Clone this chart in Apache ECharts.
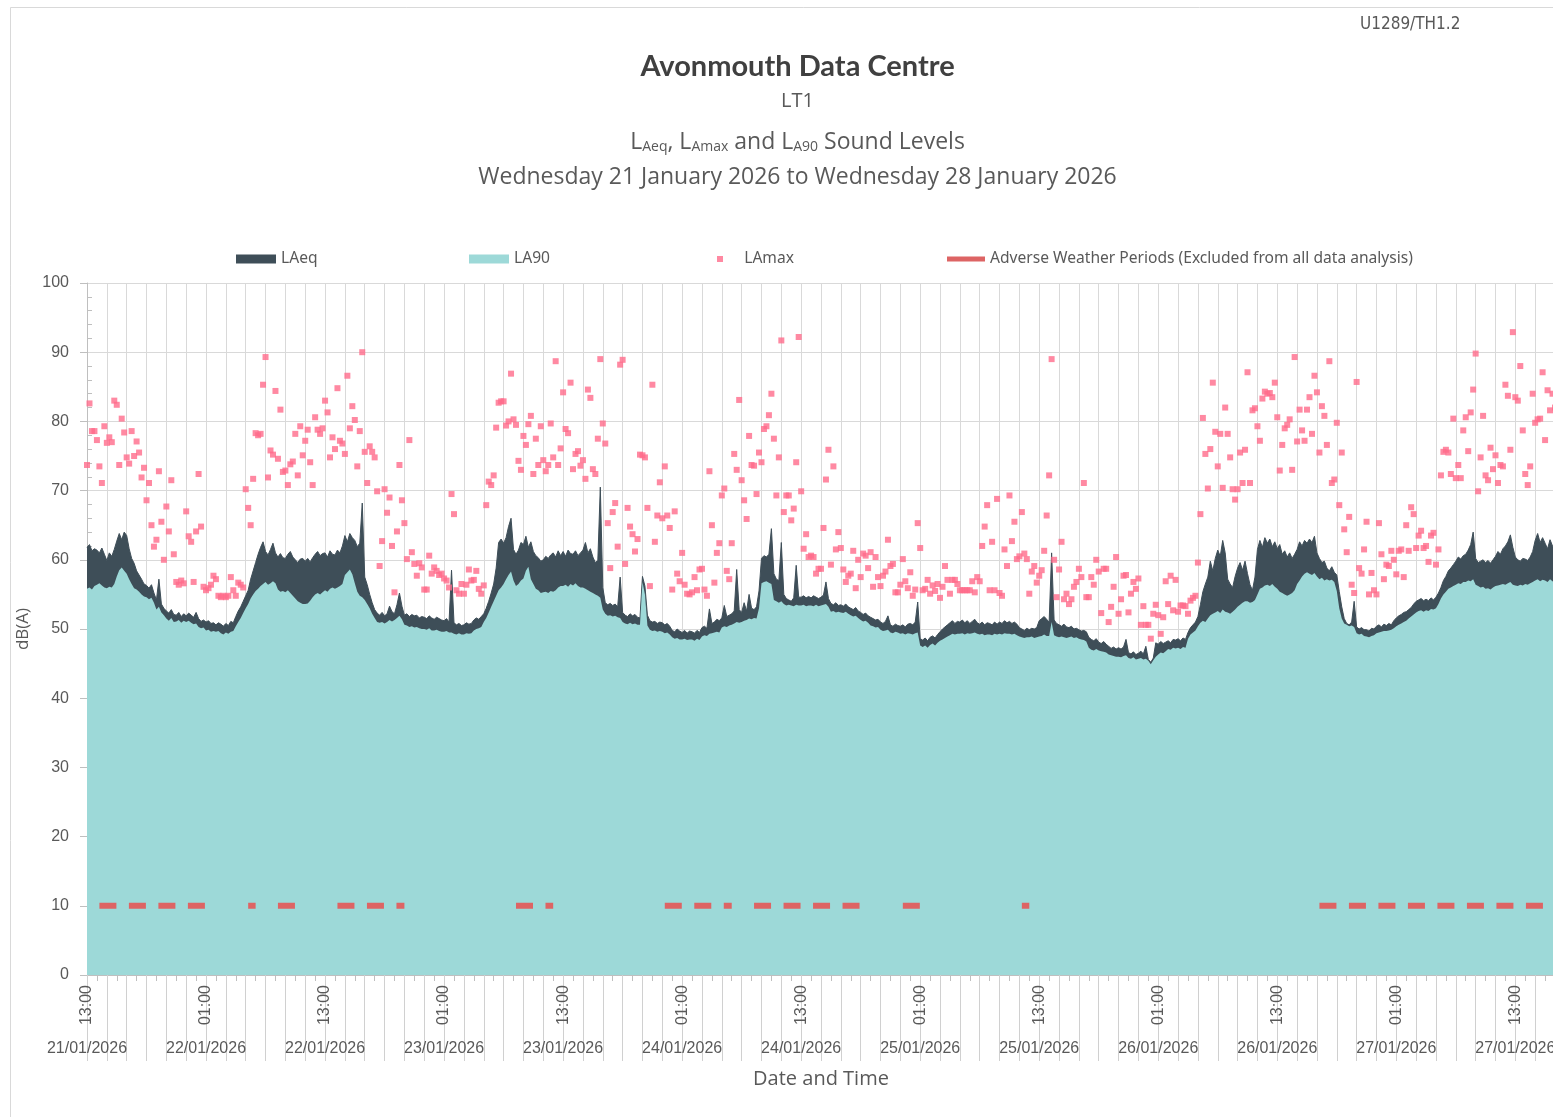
<!DOCTYPE html>
<html>
<head>
<meta charset="utf-8">
<title>Avonmouth Data Centre - LT1</title>
<script src="https://cdn.jsdelivr.net/npm/echarts@6/dist/echarts.min.js"></script>
<style>
  html, body { margin: 0; padding: 0; overflow: hidden; background: #fff; }
  #chart { width: 1595px; height: 1117px; }
</style>
</head>
<body>
<div id="chart"></div>
<script>
// samples every 15 minutes, first one at 21/01/2026 13:00
const firstHour = 13;
const firstDay = 21;
const sampleHours = 0.25;
const lastHour = 148;

const laeq = [
  61.8, 62.2, 61.3, 61.6, 61.4, 61.0, 61.7, 60.8, 59.9, 61.0, 60.5, 61.5, 62.7, 63.8, 62.9, 64.0, 63.5, 61.6, 60.2, 59.5, 58.4, 57.8, 57.2, 56.5,
  56.3, 55.9, 56.4, 55.2, 54.2, 57.2, 53.6, 53.0, 52.6, 52.3, 52.8, 52.1, 52.0, 52.4, 51.8, 52.2, 51.9, 52.3, 52.0, 51.7, 52.4, 51.5, 51.1, 51.3,
  51.0, 51.2, 50.8, 50.9, 50.6, 50.9, 50.7, 50.4, 50.8, 50.5, 51.1, 50.9, 51.8, 52.6, 53.2, 54.0, 54.8, 55.6, 57.2, 58.4, 59.6, 60.8, 61.8, 62.6,
  61.2, 60.7, 61.5, 62.4, 61.0, 60.4, 60.9, 60.3, 60.2, 60.8, 61.2, 60.4, 60.0, 59.6, 60.1, 60.2, 59.8, 60.2, 59.7, 60.3, 60.8, 61.2, 60.6, 60.9,
  61.0, 60.4, 61.3, 60.8, 60.7, 61.4, 61.0, 62.0, 63.5, 62.6, 63.8, 63.2, 62.8, 61.9, 62.4, 68.2, 57.5, 56.4, 55.0, 53.8, 52.8, 52.3, 52.0, 52.4,
  51.9, 52.2, 53.3, 52.5, 52.2, 53.5, 55.2, 53.3, 52.0, 52.2, 51.8, 52.1, 51.9, 52.0, 51.6, 51.8, 51.7, 51.5, 51.9, 51.6, 51.4, 51.7, 51.5, 51.3,
  51.2, 51.5, 51.0, 58.5, 50.9, 50.6, 50.8, 50.5, 50.6, 50.9, 50.7, 50.8, 51.3, 51.6, 51.4, 51.8, 52.2, 53.0, 54.0, 55.2, 56.5, 58.8, 62.5, 63.0,
  62.4, 63.2, 64.8, 66.0, 61.5, 60.8, 61.4, 62.5, 62.2, 63.4, 61.8, 62.6, 61.2, 60.6, 60.3, 59.8, 60.0, 60.5, 60.2, 60.7, 61.0, 60.4, 61.3, 60.6,
  61.2, 60.5, 61.4, 60.9, 60.8, 61.3, 60.6, 61.0, 61.4, 62.5, 61.0, 61.6, 60.4, 59.6, 59.9, 70.5, 56.0, 53.8, 53.5, 53.7, 53.4, 53.6, 53.2, 57.5,
  52.4, 52.0, 51.8, 52.2, 51.9, 52.1, 51.7, 51.6, 57.6, 56.2, 52.0, 51.2, 51.0, 51.1, 50.8, 51.0, 50.9, 50.6, 50.8, 50.4, 49.8, 49.6, 50.0, 49.7,
  49.5, 49.8, 49.4, 49.7, 49.6, 49.4, 49.8, 49.5, 50.2, 50.4, 50.1, 52.9, 50.8, 51.0, 51.4, 51.2, 51.6, 53.4, 51.8, 52.0, 52.2, 52.6, 58.6, 52.8,
  52.4, 53.8, 52.6, 55.0, 53.0, 52.8, 53.2, 55.5, 60.2, 60.6, 60.4, 60.8, 64.5, 58.0, 57.2, 57.0, 62.5, 55.0, 54.4, 54.2, 54.0, 54.5, 59.2, 54.6,
  54.6, 54.8, 54.5, 54.7, 54.5, 54.8, 54.6, 54.4, 54.6, 54.9, 56.8, 54.4, 53.7, 53.5, 53.8, 53.4, 53.5, 53.3, 53.6, 53.2, 53.0, 52.8, 53.1, 52.6,
  52.4, 52.1, 52.3, 51.9, 51.7, 51.5, 51.3, 51.4, 51.0, 50.8, 51.1, 51.9, 50.6, 50.4, 50.7, 50.5, 50.4, 50.6, 50.3, 50.7, 50.8, 50.6, 51.0, 53.9,
  48.6, 48.4, 48.7, 48.3, 48.8, 49.0, 48.7, 49.2, 49.6, 50.0, 50.3, 50.6, 50.9, 51.2, 50.8, 51.1, 51.0, 51.3, 50.9, 51.2, 50.8, 51.1, 51.4, 50.9,
  50.7, 51.0, 50.6, 50.9, 50.8, 50.6, 51.0, 50.7, 51.0, 50.8, 51.2, 50.9, 51.1, 50.8, 51.0, 50.7, 50.2, 50.0, 49.8, 50.1, 49.9, 50.1, 50.0, 50.2,
  51.2, 51.5, 51.8, 51.4, 51.0, 61.0, 51.3, 50.8, 50.6, 50.4, 50.7, 50.3, 50.2, 50.4, 50.0, 50.1, 49.9, 49.7, 49.8, 49.6, 48.8, 48.5, 48.3, 48.6,
  48.1, 47.9, 48.2, 47.8, 47.5, 47.2, 47.4, 47.1, 47.3, 47.1, 47.4, 48.5, 46.6, 46.4, 46.7, 46.3, 46.5, 46.8, 46.4, 47.5, 45.6, 45.2, 45.8, 48.0,
  47.8, 48.2, 47.9, 48.1, 48.3, 48.0, 48.5, 48.4, 48.6, 48.3, 48.7, 48.5, 49.5, 50.2, 50.6, 51.0, 51.8, 53.5, 55.4, 56.5, 57.5, 59.8, 58.4, 60.2,
  61.4, 60.5, 62.8, 61.0, 57.2, 56.5, 56.0, 57.6, 58.8, 59.6, 58.5, 59.8, 58.0, 56.4, 55.6, 57.5, 61.5, 62.8, 61.8, 63.2, 62.4, 63.0, 61.9, 62.6,
  61.6, 62.2, 60.8, 61.3, 60.4, 61.0, 60.2, 60.8, 61.5, 62.6, 62.0, 62.8, 62.4, 63.0, 62.5, 63.4, 61.0, 60.2, 59.6, 59.8, 58.8, 58.4, 59.0, 58.2,
  57.8, 55.4, 53.2, 51.5, 50.8, 50.6, 51.0, 54.0, 50.3, 50.0, 50.2, 49.9, 49.9, 49.7, 50.1, 50.0, 50.4, 50.6, 50.3, 50.7, 50.5, 50.8, 50.6, 51.2,
  51.6, 51.9, 52.1, 52.4, 52.5, 52.8, 53.1, 53.6, 54.0, 54.2, 54.4, 54.1, 54.3, 54.1, 54.5, 54.2, 54.6, 55.2, 56.0, 57.0, 57.6, 58.4, 58.8, 59.3,
  59.8, 60.4, 60.1, 60.6, 60.8, 61.4, 62.2, 64.0, 60.2, 59.6, 59.8, 60.0, 59.6, 59.9, 59.5, 60.0, 60.5, 61.2, 60.8, 61.6, 62.0, 62.6, 63.6, 61.8,
  60.4, 60.0, 59.8, 60.2, 60.1, 59.9, 60.4, 61.2, 62.8, 63.8, 62.5, 63.2, 62.4, 61.6, 62.9, 62.0, 61.5
];

const la90 = [
  55.8, 56.0, 55.7, 56.2, 56.4, 56.6, 56.3, 56.0, 55.9, 56.1, 56.0, 56.5, 57.6, 58.5, 58.9, 58.4, 58.0, 57.2, 56.5, 55.9, 55.7, 55.4, 55.0, 54.7,
  54.6, 54.3, 54.5, 53.8, 52.8, 53.2, 52.4, 52.0, 51.5, 51.2, 51.6, 51.0, 51.1, 51.3, 50.9, 51.2, 51.0, 51.2, 50.9, 50.7, 50.8, 50.3, 50.1, 50.2,
  49.8, 49.9, 49.6, 49.7, 49.6, 49.7, 49.4, 49.2, 49.5, 49.3, 49.6, 49.7, 50.4, 51.0, 51.6, 52.3, 53.0, 53.6, 54.4, 55.0, 55.5, 55.8, 56.2, 56.5,
  56.8, 56.4, 56.6, 56.9, 56.6, 55.7, 55.4, 55.5, 55.3, 55.6, 55.2, 54.8, 54.4, 54.0, 53.8, 53.6, 53.6, 53.7, 54.1, 54.6, 55.0, 55.2, 55.0, 55.3,
  55.6, 55.4, 55.8, 56.0, 55.8, 56.0, 56.2, 56.5, 57.8, 58.2, 58.6, 57.9, 56.6, 55.4, 54.8, 54.6, 54.2, 53.6, 53.0, 52.2, 51.6, 51.0, 50.9, 51.0,
  50.8, 51.0, 51.3, 51.1, 51.3, 51.6, 51.9, 51.4, 50.6, 50.5, 50.3, 50.4, 50.2, 50.3, 50.1, 50.0, 50.0, 49.9, 50.1, 49.8, 49.8, 49.9, 49.7, 49.6,
  49.6, 49.7, 49.5, 49.5, 49.3, 49.2, 49.4, 49.2, 49.2, 49.4, 49.3, 49.4, 49.8, 50.0, 50.1, 50.3, 51.0, 51.6, 52.4, 53.2, 54.0, 54.8, 55.6, 56.0,
  56.5, 57.2, 57.8, 58.3, 57.0, 56.2, 56.5, 57.0, 57.3, 58.4, 59.0, 57.2, 56.5, 55.8, 55.6, 55.2, 55.3, 55.4, 55.2, 55.5, 55.4, 55.6, 56.0, 56.2,
  56.2, 56.4, 56.1, 56.5, 56.3, 56.6, 56.2, 56.0, 56.0, 55.8, 55.6, 55.4, 55.2, 55.0, 54.8, 54.5, 52.8, 52.2, 51.9, 52.0, 51.8, 51.9, 51.7, 51.6,
  51.0, 50.8, 50.7, 50.9, 50.7, 50.8, 50.6, 50.6, 56.8, 55.0, 50.5, 49.9, 49.7, 49.8, 49.6, 49.7, 49.6, 49.4, 49.5, 49.2, 48.8, 48.6, 48.7, 48.5,
  48.5, 48.6, 48.4, 48.5, 48.5, 48.3, 48.6, 48.4, 48.9, 49.1, 49.0, 49.3, 49.4, 49.5, 49.6, 49.5, 50.2, 50.4, 50.3, 50.5, 50.6, 50.8, 51.0, 50.9,
  51.0, 51.2, 51.3, 51.5, 51.4, 51.6, 51.5, 53.0, 56.6, 56.8, 56.9, 56.7, 56.5, 54.2, 54.0, 53.8, 54.0, 53.6, 53.4, 53.5, 53.4, 53.3, 53.5, 53.4,
  53.4, 53.5, 53.3, 53.4, 53.4, 53.3, 53.5, 53.3, 53.4, 53.5, 53.6, 53.2, 52.5, 52.6, 52.4, 52.5, 52.4, 52.3, 52.5, 52.2, 52.0, 51.8, 51.9, 51.6,
  51.3, 51.1, 51.2, 50.9, 50.5, 50.4, 50.2, 50.3, 49.9, 49.7, 49.8, 49.9, 49.5, 49.4, 49.6, 49.5, 49.3, 49.4, 49.2, 49.4, 49.3, 49.2, 49.4, 49.5,
  47.6, 47.4, 47.6, 47.3, 47.7, 47.9, 47.6, 48.0, 48.3, 48.5, 48.7, 48.9, 49.1, 49.3, 49.2, 49.3, 49.3, 49.4, 49.2, 49.4, 49.3, 49.4, 49.5, 49.3,
  49.2, 49.3, 49.1, 49.2, 49.2, 49.1, 49.3, 49.2, 49.3, 49.2, 49.4, 49.3, 49.3, 49.2, 49.3, 49.1, 48.9, 48.8, 48.7, 48.8, 48.8, 48.9, 48.7, 48.8,
  48.9, 49.0, 49.2, 49.0, 49.0, 51.0, 49.1, 48.9, 48.8, 48.9, 48.8, 48.7, 48.8, 48.9, 48.7, 48.8, 48.6, 48.5, 48.4, 48.2, 47.3, 47.0, 46.9, 47.1,
  46.9, 46.8, 46.7, 46.6, 46.3, 46.2, 46.1, 46.0, 46.0, 45.9, 46.1, 46.2, 45.8, 45.7, 45.9, 45.6, 45.7, 45.8, 45.6, 45.7, 45.4, 44.9, 45.5, 46.0,
  46.3, 46.6, 46.5, 46.8, 47.1, 47.0, 47.3, 47.2, 47.3, 47.1, 47.4, 47.3, 48.6, 49.2, 49.5, 49.8, 50.4, 50.9, 51.2, 51.0, 51.5, 52.0, 52.2, 52.4,
  52.6, 52.3, 52.8, 52.5, 52.4, 52.2, 52.5, 52.8, 53.2, 53.5, 53.8, 54.0, 54.0, 53.8, 53.9, 54.2, 55.0, 55.8, 56.0, 56.3, 56.4, 56.2, 56.5, 56.1,
  55.8, 55.4, 55.2, 55.0, 54.8, 55.0, 55.2, 55.6, 56.5, 57.0, 57.6, 58.0, 58.2, 58.0, 57.8, 58.1, 57.6, 57.2, 57.4, 57.0, 57.2, 57.0, 57.1, 56.8,
  55.5, 53.0, 51.5, 50.8, 50.6, 50.4, 50.5, 50.3, 49.4, 49.2, 49.3, 49.0, 48.9, 48.8, 49.0, 49.1, 49.4, 49.5, 49.6, 49.7, 49.7, 49.8, 49.9, 50.1,
  50.4, 50.6, 50.8, 51.0, 51.2, 51.5, 51.8, 52.1, 52.4, 52.6, 52.7, 52.5, 52.7, 52.6, 52.9, 52.8, 53.0, 53.6, 54.4, 55.0, 55.4, 55.8, 56.0, 56.2,
  56.4, 56.6, 56.5, 56.8, 56.8, 57.0, 56.9, 57.2, 56.4, 56.2, 56.0, 56.1, 55.8, 55.9, 55.7, 56.0, 56.2, 56.3, 56.4, 56.5, 56.4, 56.6, 56.8, 56.4,
  56.3, 56.2, 56.4, 56.3, 56.5, 56.4, 56.6, 56.8, 57.0, 57.2, 56.9, 57.1, 57.0, 56.8, 57.2, 56.9, 56.6
];

const lamax = [
  73.7, 82.6, 78.6, 78.6, 77.3, 73.5, 71.1, 79.3, 76.9, 77.7, 77.0, 83.0, 82.4, 73.7, 80.4, 78.4, 74.8, 73.9, 78.6, 75.0, 77.1, 75.5, 71.9, 73.3,
  68.6, 71.1, 65.0, 61.9, 62.9, 72.8, 65.5, 60.0, 67.7, 64.1, 71.5, 60.8, 56.8, 56.4, 57.0, 56.6, 67.0, 63.4, 62.6, 56.8, 64.1, 72.4, 64.8, 56.1,
  55.6, 55.9, 56.4, 57.7, 57.2, 54.8, 54.6, 54.8, 54.6, 54.8, 57.5, 55.6, 54.8, 56.7, 56.4, 56.0, 70.2, 67.5, 65.0, 71.7, 78.3, 78.0, 78.2, 85.3,
  89.3, 71.9, 75.8, 75.2, 84.4, 74.6, 81.7, 72.7, 72.9, 70.8, 73.8, 74.2, 78.2, 72.2, 79.3, 75.1, 77.2, 78.8, 74.1, 70.8, 80.6, 78.8, 78.2, 79.0,
  83.0, 81.3, 74.8, 77.7, 76.0, 84.8, 77.2, 76.8, 75.3, 86.6, 79.0, 82.2, 80.2, 73.5, 78.6, 90.0, 75.6, 71.1, 76.4, 75.6, 74.8, 69.9, 59.1, 62.7,
  70.2, 66.8, 69.0, 62.0, 55.3, 64.1, 73.7, 68.6, 65.3, 60.1, 77.3, 61.1, 59.4, 57.7, 59.5, 58.9, 55.7, 55.7, 60.6, 58.0, 58.9, 58.4, 57.8, 58.0,
  57.3, 57.0, 56.0, 69.5, 66.6, 55.6, 55.1, 56.5, 55.1, 56.4, 58.6, 57.0, 57.1, 58.4, 55.8, 55.1, 56.3, 67.9, 71.3, 70.8, 72.2, 79.1, 82.7, 82.9,
  82.9, 79.4, 80.0, 86.9, 80.3, 79.5, 74.3, 73.0, 77.9, 76.6, 79.6, 80.8, 72.4, 77.5, 73.7, 79.3, 74.4, 72.8, 73.7, 79.7, 74.8, 88.7, 73.7, 76.1,
  84.2, 78.9, 78.3, 85.6, 73.1, 75.3, 75.7, 73.6, 74.4, 71.7, 84.6, 83.4, 73.1, 72.4, 77.5, 89.0, 79.7, 76.8, 65.3, 58.8, 66.9, 68.2, 61.9, 88.2,
  88.9, 59.4, 67.5, 64.8, 63.7, 61.2, 63.0, 75.2, 75.1, 74.8, 67.5, 56.2, 85.3, 62.6, 66.4, 71.2, 66.0, 73.5, 66.4, 64.6, 55.7, 67.0, 58.0, 56.9,
  61.0, 56.4, 55.1, 55.0, 55.3, 57.5, 55.6, 58.6, 58.7, 55.7, 54.8, 72.8, 65.0, 56.7, 61.0, 62.4, 69.3, 70.3, 58.4, 57.2, 62.4, 75.3, 73.0, 83.1,
  71.5, 68.6, 65.9, 77.9, 73.7, 73.6, 69.5, 75.5, 74.1, 78.9, 79.3, 80.9, 84.0, 77.5, 69.3, 74.8, 91.7, 66.9, 69.3, 69.3, 65.7, 67.4, 74.1, 92.2,
  69.9, 61.6, 63.7, 60.4, 60.6, 60.4, 58.0, 58.7, 58.7, 64.6, 71.6, 75.9, 59.3, 73.5, 61.5, 64.0, 61.7, 58.6, 56.8, 57.7, 58.0, 61.3, 55.9, 60.0,
  57.5, 60.9, 60.6, 58.8, 61.1, 56.1, 60.4, 57.5, 56.2, 57.7, 58.3, 62.9, 59.1, 59.4, 55.3, 55.3, 56.4, 60.1, 56.9, 55.9, 58.2, 54.8, 55.7, 65.3,
  61.7, 55.6, 55.8, 57.1, 55.1, 56.3, 55.5, 56.5, 54.5, 56.1, 59.1, 57.1, 55.1, 57.1, 57.1, 56.5, 55.6, 55.6, 55.6, 55.6, 55.6, 56.9, 55.3, 57.5,
  56.9, 62.0, 64.8, 67.9, 55.6, 62.6, 55.6, 68.8, 55.2, 54.8, 61.5, 59.1, 69.3, 62.7, 65.5, 60.1, 60.5, 66.9, 60.9, 60.1, 55.1, 58.3, 59.1, 56.7,
  57.7, 58.5, 61.3, 66.4, 72.2, 89.0, 60.0, 54.6, 58.6, 62.6, 54.3, 55.1, 53.6, 54.3, 56.1, 56.8, 58.7, 57.5, 71.1, 54.6, 54.6, 57.5, 56.4, 60.0,
  58.3, 52.3, 58.7, 58.7, 51.0, 53.2, 56.1, 60.4, 52.2, 54.3, 57.7, 57.8, 52.4, 55.1, 56.8, 55.8, 57.3, 50.6, 53.3, 50.6, 50.6, 48.6, 52.2, 53.5,
  52.0, 49.3, 51.7, 56.9, 53.6, 57.7, 52.7, 57.1, 52.5, 53.4, 53.4, 53.3, 52.2, 54.1, 54.5, 54.8, 59.6, 66.6, 80.5, 75.3, 70.3, 76.0, 85.6, 78.5,
  73.5, 78.2, 70.4, 82.0, 78.2, 74.8, 70.2, 68.7, 70.2, 75.5, 71.1, 75.9, 87.1, 71.1, 81.6, 81.9, 79.3, 77.2, 83.3, 84.3, 84.0, 84.1, 83.5, 85.6,
  80.6, 72.9, 76.6, 79.0, 79.5, 80.3, 73.0, 89.3, 77.1, 81.7, 78.7, 77.2, 81.7, 83.5, 78.2, 86.6, 84.2, 75.5, 82.2, 80.8, 76.6, 88.7, 71.1, 71.6,
  79.8, 67.9, 75.5, 64.4, 61.1, 66.2, 56.4, 55.2, 85.7, 58.8, 58.0, 61.5, 65.5, 55.0, 58.1, 55.6, 55.0, 65.3, 60.8, 57.2, 59.3, 59.1, 61.3, 60.0,
  57.9, 61.3, 61.5, 57.5, 65.0, 61.3, 67.6, 66.6, 61.7, 63.5, 64.2, 61.7, 62.0, 59.7, 63.5, 63.9, 59.3, 61.5, 72.2, 75.6, 75.9, 75.5, 72.4, 80.4,
  71.8, 73.7, 71.8, 78.7, 80.6, 75.7, 81.3, 84.6, 89.8, 69.9, 74.8, 80.8, 72.2, 71.5, 76.2, 73.1, 75.1, 71.1, 73.7, 73.5, 85.3, 83.7, 75.9, 92.9,
  83.5, 83.0, 88.0, 78.7, 72.4, 70.8, 73.5, 84.0, 79.8, 80.3, 80.4, 87.1, 77.3, 84.5, 81.6, 84.0, 82.0
];

// adverse weather periods, hours after the first sample
const adverseStart = [1.25, 16.25, 19.25, 25.25, 43.25, 58.25, 67.25, 82.25, 94.25, 124.25];
const adverseEnd = [12.25, 17, 21.5, 32, 47, 65, 78.25, 84.5, 95, 148];
const adverseLevel = 10;

const adverseName = 'Adverse Weather Periods (Excluded from all data analysis)';
const textGrey = '#595959';
const gridGrey = '#d9d9d9';

function toPairs(values) {
  return values.map((v, i) => [i * sampleHours, v]);
}

const adverseData = laeq.map((_, i) => {
  const h = i * sampleHours;
  const inPeriod = adverseStart.some((s, k) => h >= s && h <= adverseEnd[k]);
  return [h, inPeriod ? adverseLevel : null];
});

function clockLabel(v) {
  if (v % 12 !== 0) return '';
  const hh = (firstHour + v) % 24;
  return (hh < 10 ? '0' : '') + hh + ':00';
}

function dateLabel(v) {
  if (v % 12 !== 0) return '';
  const day = firstDay + Math.floor((firstHour + v) / 24);
  return day + '/01/2026';
}

const chart = echarts.init(document.getElementById('chart'));

const legendText = { color: textGrey, fontSize: 15.6, fontFamily: 'Noto Sans' };

const option = {
  animation: false,
  backgroundColor: '#fff',
  title: [
    {
      text: 'Avonmouth Data Centre', left: 'center', top: 52, padding: 0,
      textStyle: { fontFamily: 'Lato', fontWeight: 'bold', fontSize: 29, color: '#404040' }
    },
    {
      text: 'LT1', left: 'center', top: 91, padding: 0,
      textStyle: { fontFamily: 'Open Sans', fontWeight: 'normal', fontSize: 20, color: textGrey }
    },
    {
      text: '{a|L}{s|Aeq}{a|, L}{s|Amax}{a| and L}{s|A90}{a| Sound Levels}',
      left: 'center', top: 127, padding: 0,
      textStyle: {
        fontWeight: 'normal',
        rich: {
          a: { fontFamily: 'Open Sans', fontWeight: 'normal', fontSize: 23, color: textGrey, lineHeight: 27, verticalAlign: 'bottom' },
          s: { fontFamily: 'Open Sans', fontWeight: 'normal', fontSize: 14, color: textGrey, lineHeight: 12, verticalAlign: 'bottom' }
        }
      }
    },
    {
      text: 'Wednesday 21 January 2026 to Wednesday 28 January 2026', left: 'center', top: 166, padding: 0,
      textStyle: { fontFamily: 'Open Sans', fontWeight: 'normal', fontSize: 23, color: textGrey }
    },
    {
      text: 'U1289/TH1.2', left: 1360, top: 16, padding: 0,
      textStyle: { fontFamily: 'DejaVu Sans Condensed', fontWeight: 'normal', fontSize: 17, color: textGrey }
    }
  ],
  legend: [
    {
      data: [{ name: 'LAeq', icon: 'rect' }], left: 236, top: 251, padding: 0,
      itemWidth: 40, itemHeight: 9, textStyle: legendText, selectedMode: false
    },
    {
      data: [{ name: 'LA90', icon: 'rect' }], left: 469, top: 251, padding: 0,
      itemWidth: 40, itemHeight: 9, textStyle: legendText, selectedMode: false
    },
    {
      data: [{ name: 'LAmax', icon: 'rect' }], left: 717, top: 251, padding: 0,
      itemWidth: 6, itemHeight: 6, textStyle: legendText, selectedMode: false,
      formatter: '    {name}'
    },
    {
      data: [{ name: adverseName, icon: 'rect' }], left: 947, top: 251, padding: 0,
      itemWidth: 38, itemHeight: 5, textStyle: legendText, selectedMode: false
    }
  ],
  grid: { left: 87, right: 40, top: 283, bottom: 142 },
  xAxis: [
    {
      type: 'value', min: 0, max: lastHour, interval: 2,
      name: 'Date and Time', nameLocation: 'middle', nameGap: 94,
      nameTextStyle: { fontFamily: 'Open Sans', fontSize: 20, color: textGrey },
      axisLine: { lineStyle: { color: '#bfbfbf' } },
      axisTick: { length: 86, lineStyle: { color: '#d0d0d0' } },
      minorTick: { show: true, splitNumber: 2, length: 6, lineStyle: { color: '#bfbfbf' } },
      axisLabel: {
        rotate: 90, margin: 10, formatter: clockLabel,
        fontFamily: 'Liberation Sans', fontSize: 16, color: textGrey
      },
      splitLine: { show: true, lineStyle: { color: gridGrey } }
    },
    {
      type: 'value', min: 0, max: lastHour, interval: 12, position: 'bottom',
      axisLine: { show: false }, axisTick: { show: false }, splitLine: { show: false },
      axisLabel: {
        margin: 66, formatter: dateLabel,
        fontFamily: 'Liberation Sans', fontSize: 16, color: textGrey
      }
    }
  ],
  yAxis: [
    {
      type: 'value', min: 0, max: 100, interval: 10,
      name: 'dB(A)', nameLocation: 'middle', nameGap: 40,
      nameTextStyle: { fontFamily: 'Open Sans', fontSize: 17, color: textGrey },
      axisLine: { show: true, lineStyle: { color: '#bfbfbf' } },
      axisTick: { show: true, length: 7, lineStyle: { color: '#bfbfbf' } },
      axisLabel: { margin: 18, fontFamily: 'Liberation Sans', fontSize: 16, color: textGrey },
      splitLine: { show: true, lineStyle: { color: gridGrey } }
    },
    {
      type: 'value', min: 0, max: 100, interval: 10, position: 'left',
      axisLine: { show: false }, axisLabel: { show: false }, splitLine: { show: false },
      axisTick: { show: false, inside: true },
      minorTick: { show: true, splitNumber: 5, length: 5, lineStyle: { color: '#bfbfbf' } }
    }
  ],
  graphic: [
    {
      type: 'rect', silent: true, z: -1,
      shape: { x: 10.5, y: 7.5, width: 1600, height: 1120 },
      style: { fill: 'none', stroke: gridGrey, lineWidth: 1 }
    }
  ],
  series: [
    {
      name: 'LAeq', type: 'line', data: toPairs(laeq), symbol: 'none',
      color: '#3e4e58', lineStyle: { width: 1 }, areaStyle: { opacity: 1 }, z: 1
    },
    {
      name: 'LA90', type: 'line', data: toPairs(la90), symbol: 'none',
      color: '#9dd9d8', lineStyle: { width: 0 }, areaStyle: { opacity: 1 }, z: 2
    },
    {
      name: adverseName, type: 'line', data: adverseData, symbol: 'none',
      color: '#dd6464', lineStyle: { width: 6, type: [17, 12.5], cap: 'butt' }, z: 3
    },
    {
      name: 'LAmax', type: 'scatter', data: toPairs(lamax), symbol: 'rect', symbolSize: 6,
      color: '#ff6b8b', z: 4
    }
  ]
};

chart.setOption(option);
</script>
</body>
</html>
